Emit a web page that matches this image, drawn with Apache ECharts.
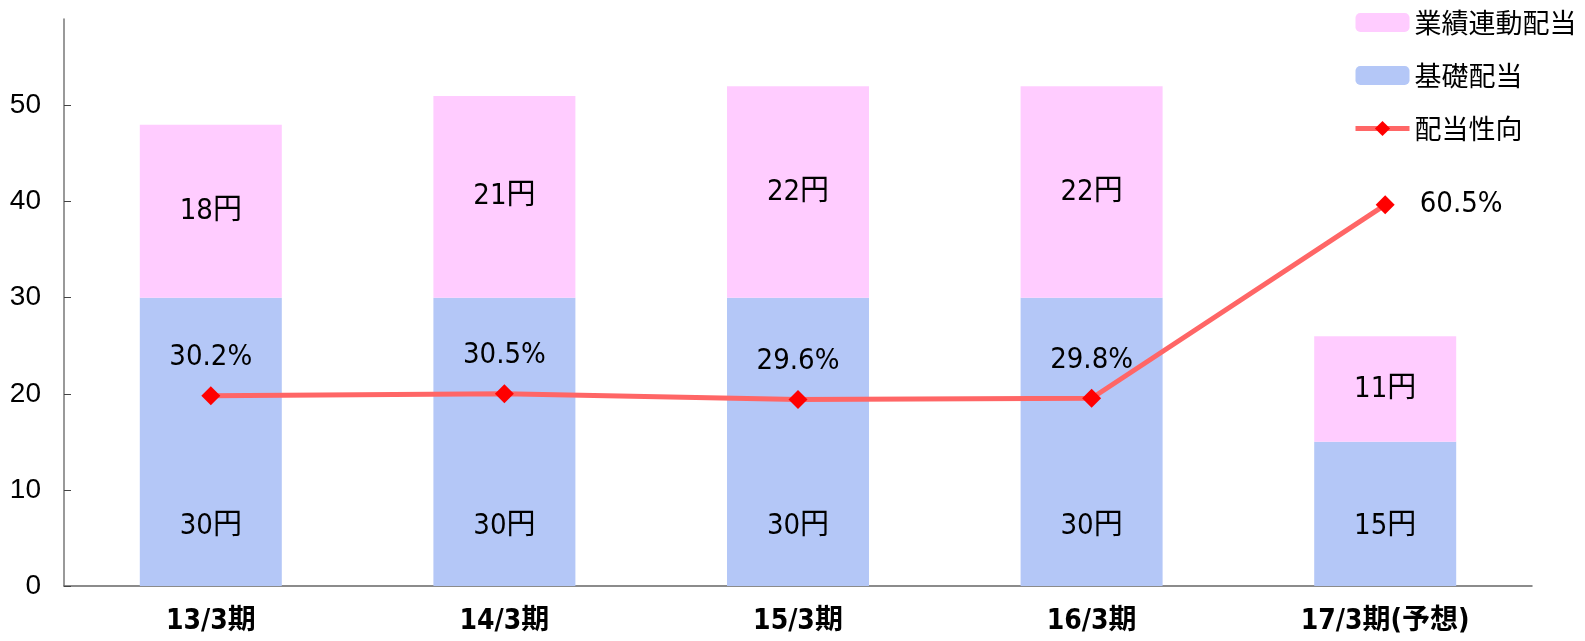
<!DOCTYPE html>
<html><head><meta charset="utf-8">
<script src="https://cdn.jsdelivr.net/npm/echarts@6/dist/echarts.min.js"></script>
<style>html,body{margin:0;padding:0;background:#fff}#c{width:1585px;height:641px}</style>
</head><body><div id="c"></div>
<script>
const categories = ['13/3期', '14/3期', '15/3期', '16/3期', '17/3期(予想)'];
const baseDividend = [30, 30, 30, 30, 15];
const performanceDividend = [18, 21, 22, 22, 11];
const payoutRatio = [30.2, 30.5, 29.6, 29.8, 60.5];
const yTicks = [0, 10, 20, 30, 40, 50];

const narrow = '"Liberation Sans Narrow", "DejaVu Sans Condensed", "Noto Sans CJK JP", sans-serif';
const chart = echarts.init(document.getElementById('c'));
chart.setOption({
  animation: false,
  grid: { left: 64, right: 53, top: 19, bottom: 55 },
  legend: {
    orient: 'vertical', left: 1348, top: 4, itemWidth: 54, itemHeight: 19, itemGap: 26,
    data: ['業績連動配当', '基礎配当', { name: '配当性向', lineStyle: { width: 5 } }],
    textStyle: { fontSize: 27, color: '#000', fontFamily: '"Noto Sans CJK JP", sans-serif' }
  },
  xAxis: {
    type: 'category', data: categories,
    axisLine: { lineStyle: { color: '#666', width: 1.5 } },
    axisTick: { inside: true, length: 8, lineStyle: { color: '#666' } },
    axisLabel: { margin: 22, fontSize: 28, fontWeight: 'bold', color: '#000', fontFamily: narrow }
  },
  yAxis: [{
    type: 'value', min: 0, max: 59, interval: 10,
    splitLine: { show: false },
    axisLine: { show: true, lineStyle: { color: '#777', width: 1.5 } },
    axisTick: { show: true, inside: true, length: 7, lineStyle: { color: '#444' }, customValues: yTicks },
    axisLabel: { margin: 23, fontSize: 28, color: '#000', fontFamily: '"Liberation Sans", sans-serif', customValues: yTicks }
  }, {
    type: 'value', min: 0, max: 90, show: false
  }],
  series: [{
    name: '基礎配当', type: 'bar', stack: 'd', data: baseDividend, barWidth: 142,
    itemStyle: { color: '#B4C7F7' },
    label: { show: true, position: 'insideBottom', distance: 45, formatter: '{c}円', fontSize: 29, color: '#000', fontFamily: narrow }
  }, {
    name: '業績連動配当', type: 'bar', stack: 'd', data: performanceDividend, barWidth: 142,
    itemStyle: { color: '#FFCCFF' },
    label: { show: true, position: 'inside', formatter: '{c}円', fontSize: 29, color: '#000', fontFamily: narrow }
  }, {
    name: '配当性向', type: 'line', yAxisIndex: 1,
    data: payoutRatio.map((v, i) => i === payoutRatio.length - 1
      ? { value: v, label: { position: 'right', distance: 25 } } : v),
    lineStyle: { color: '#FF6666', width: 5 },
    itemStyle: { color: '#FF0000' },
    symbol: 'diamond', symbolSize: 19,
    label: { show: true, position: 'top', distance: 14, formatter: '{c}%', fontSize: 29, color: '#000', fontFamily: narrow }
  }]
});
</script></body></html>
